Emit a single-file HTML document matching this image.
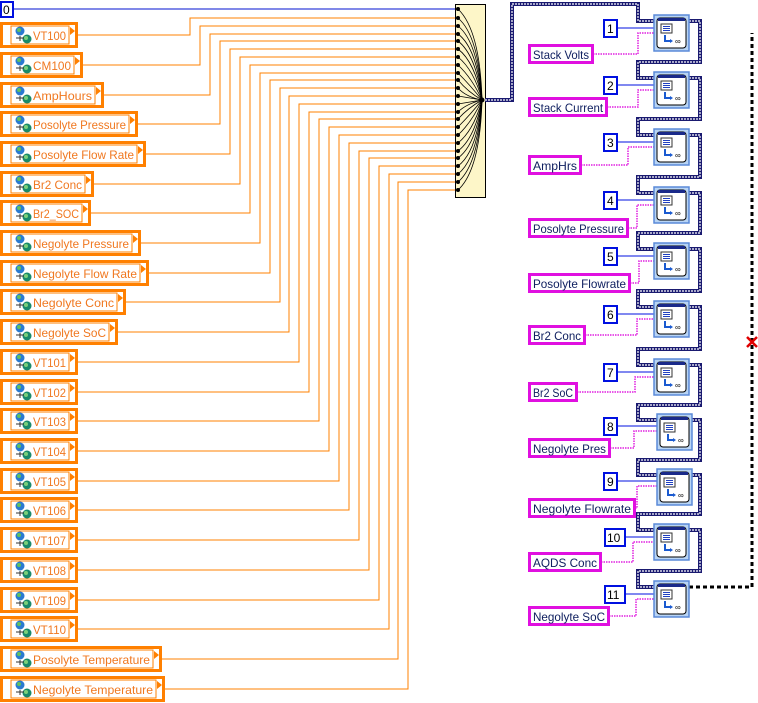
<!DOCTYPE html>
<html><head><meta charset="utf-8"><style>
html,body{margin:0;padding:0;background:#fff;width:758px;height:703px;overflow:hidden}
svg{display:block}
.lt{font-family:"Liberation Sans",sans-serif;font-size:12px;fill:#f07820}
.rt{font-family:"Liberation Sans",sans-serif;font-size:12px;fill:#102060}
.nt{font-family:"Liberation Sans",sans-serif;font-size:12px;fill:#000}
</style></head><body>
<svg width="758" height="703" viewBox="0 0 758 703" xmlns="http://www.w3.org/2000/svg">
<defs>
<g id="ic">
<circle cx="7" cy="5" r="4.5" fill="#2a7ad0"/><circle cx="6" cy="4" r="2" fill="#60c060"/>
<circle cx="14" cy="13" r="4.5" fill="#1a8a6a"/><circle cx="13" cy="12" r="2" fill="#7ad07a"/>
<path d="M3 12 h8 M7 10 v5" stroke="#333" stroke-width="1"/>
</g>
<g id="nd">
<rect x="0" y="0" width="35" height="36" fill="#b8d4f4" stroke="#5a8ad8" stroke-width="1.5"/>
<rect x="3" y="3" width="29" height="30" rx="3" fill="#fff" stroke="#000" stroke-width="1"/>
<rect x="4" y="3" width="27" height="3" fill="#1a2a8a"/>
<rect x="7" y="9" width="11" height="9" fill="#fff" stroke="#333" stroke-width="1"/>
<path d="M9 11.5h7M9 13.5h7M9 15.5h7" stroke="#2040c0" stroke-width="1"/>
<path d="M11 20 v6 h6" stroke="#1a5ad0" stroke-width="2" fill="none"/>
<path d="M16 24 l3 2 l-3 2z" fill="#1a5ad0"/>
<text x="21" y="29" font-size="8" font-family="Liberation Sans" fill="#000">∞</text>
</g>
</defs>

<rect x="1" y="2" width="12" height="15" fill="#fff" stroke="#0010e0" stroke-width="2"/>
<text x="3" y="14" class="nt">0</text>
<line x1="13" y1="9" x2="455" y2="9" stroke="#0010d0" stroke-width="1"/>

<g fill="none" stroke="#ff8000" stroke-width="1">
<polyline points="77,35 190,35 190,18 455,18"/>
<polyline points="82,65 200,65 200,26 455,26"/>
<polyline points="103,95 210,95 210,34 455,34"/>
<polyline points="137,124 220,124 220,41 455,41"/>
<polyline points="145,154 230,154 230,49 455,49"/>
<polyline points="93,184 240,184 240,57 455,57"/>
<polyline points="90,213 250,213 250,65 455,65"/>
<polyline points="140,243 260,243 260,73 455,73"/>
<polyline points="148,273 270,273 270,80 455,80"/>
<polyline points="125,302 280,302 280,88 455,88"/>
<polyline points="117,332 289,332 289,96 455,96"/>
<polyline points="77,362 299,362 299,104 455,104"/>
<polyline points="77,392 309,392 309,112 455,112"/>
<polyline points="77,421 319,421 319,119 455,119"/>
<polyline points="77,451 329,451 329,127 455,127"/>
<polyline points="77,481 339,481 339,135 455,135"/>
<polyline points="77,510 349,510 349,143 455,143"/>
<polyline points="77,540 359,540 359,151 455,151"/>
<polyline points="77,570 369,570 369,158 455,158"/>
<polyline points="77,600 379,600 379,166 455,166"/>
<polyline points="77,629 389,629 389,174 455,174"/>
<polyline points="161,659 398,659 398,182 455,182"/>
<polyline points="164,689 408,689 408,190 455,190"/>
</g>

<g>
<g transform="translate(0,35)"><rect x="1.5" y="-11.5" width="75" height="23" fill="#fff" stroke="#ff8000" stroke-width="3"/><rect x="11" y="-9" width="58" height="18" fill="none" stroke="#ff8000"/><use href="#ic" x="13" y="-9"/><text x="33" y="5" class="lt" textLength="33" lengthAdjust="spacingAndGlyphs">VT100</text><path d="M70 -8 l5 4 l-5 4z" fill="#ff8000"/></g>
<g transform="translate(0,65)"><rect x="1.5" y="-11.5" width="80" height="23" fill="#fff" stroke="#ff8000" stroke-width="3"/><rect x="11" y="-9" width="63" height="18" fill="none" stroke="#ff8000"/><use href="#ic" x="13" y="-9"/><text x="33" y="5" class="lt" textLength="38" lengthAdjust="spacingAndGlyphs">CM100</text><path d="M75 -8 l5 4 l-5 4z" fill="#ff8000"/></g>
<g transform="translate(0,95)"><rect x="1.5" y="-11.5" width="101" height="23" fill="#fff" stroke="#ff8000" stroke-width="3"/><rect x="11" y="-9" width="84" height="18" fill="none" stroke="#ff8000"/><use href="#ic" x="13" y="-9"/><text x="33" y="5" class="lt" textLength="59" lengthAdjust="spacingAndGlyphs">AmpHours</text><path d="M96 -8 l5 4 l-5 4z" fill="#ff8000"/></g>
<g transform="translate(0,124)"><rect x="1.5" y="-11.5" width="135" height="23" fill="#fff" stroke="#ff8000" stroke-width="3"/><rect x="11" y="-9" width="118" height="18" fill="none" stroke="#ff8000"/><use href="#ic" x="13" y="-9"/><text x="33" y="5" class="lt" textLength="93" lengthAdjust="spacingAndGlyphs">Posolyte Pressure</text><path d="M130 -8 l5 4 l-5 4z" fill="#ff8000"/></g>
<g transform="translate(0,154)"><rect x="1.5" y="-11.5" width="143" height="23" fill="#fff" stroke="#ff8000" stroke-width="3"/><rect x="11" y="-9" width="126" height="18" fill="none" stroke="#ff8000"/><use href="#ic" x="13" y="-9"/><text x="33" y="5" class="lt" textLength="101" lengthAdjust="spacingAndGlyphs">Posolyte Flow Rate</text><path d="M138 -8 l5 4 l-5 4z" fill="#ff8000"/></g>
<g transform="translate(0,184)"><rect x="1.5" y="-11.5" width="91" height="23" fill="#fff" stroke="#ff8000" stroke-width="3"/><rect x="11" y="-9" width="74" height="18" fill="none" stroke="#ff8000"/><use href="#ic" x="13" y="-9"/><text x="33" y="5" class="lt" textLength="49" lengthAdjust="spacingAndGlyphs">Br2 Conc</text><path d="M86 -8 l5 4 l-5 4z" fill="#ff8000"/></g>
<g transform="translate(0,213)"><rect x="1.5" y="-11.5" width="88" height="23" fill="#fff" stroke="#ff8000" stroke-width="3"/><rect x="11" y="-9" width="71" height="18" fill="none" stroke="#ff8000"/><use href="#ic" x="13" y="-9"/><text x="33" y="5" class="lt" textLength="46" lengthAdjust="spacingAndGlyphs">Br2_SOC</text><path d="M83 -8 l5 4 l-5 4z" fill="#ff8000"/></g>
<g transform="translate(0,243)"><rect x="1.5" y="-11.5" width="138" height="23" fill="#fff" stroke="#ff8000" stroke-width="3"/><rect x="11" y="-9" width="121" height="18" fill="none" stroke="#ff8000"/><use href="#ic" x="13" y="-9"/><text x="33" y="5" class="lt" textLength="96" lengthAdjust="spacingAndGlyphs">Negolyte Pressure</text><path d="M133 -8 l5 4 l-5 4z" fill="#ff8000"/></g>
<g transform="translate(0,273)"><rect x="1.5" y="-11.5" width="146" height="23" fill="#fff" stroke="#ff8000" stroke-width="3"/><rect x="11" y="-9" width="129" height="18" fill="none" stroke="#ff8000"/><use href="#ic" x="13" y="-9"/><text x="33" y="5" class="lt" textLength="104" lengthAdjust="spacingAndGlyphs">Negolyte Flow Rate</text><path d="M141 -8 l5 4 l-5 4z" fill="#ff8000"/></g>
<g transform="translate(0,302)"><rect x="1.5" y="-11.5" width="123" height="23" fill="#fff" stroke="#ff8000" stroke-width="3"/><rect x="11" y="-9" width="106" height="18" fill="none" stroke="#ff8000"/><use href="#ic" x="13" y="-9"/><text x="33" y="5" class="lt" textLength="81" lengthAdjust="spacingAndGlyphs">Negolyte Conc</text><path d="M118 -8 l5 4 l-5 4z" fill="#ff8000"/></g>
<g transform="translate(0,332)"><rect x="1.5" y="-11.5" width="115" height="23" fill="#fff" stroke="#ff8000" stroke-width="3"/><rect x="11" y="-9" width="98" height="18" fill="none" stroke="#ff8000"/><use href="#ic" x="13" y="-9"/><text x="33" y="5" class="lt" textLength="73" lengthAdjust="spacingAndGlyphs">Negolyte SoC</text><path d="M110 -8 l5 4 l-5 4z" fill="#ff8000"/></g>
<g transform="translate(0,362)"><rect x="1.5" y="-11.5" width="75" height="23" fill="#fff" stroke="#ff8000" stroke-width="3"/><rect x="11" y="-9" width="58" height="18" fill="none" stroke="#ff8000"/><use href="#ic" x="13" y="-9"/><text x="33" y="5" class="lt" textLength="33" lengthAdjust="spacingAndGlyphs">VT101</text><path d="M70 -8 l5 4 l-5 4z" fill="#ff8000"/></g>
<g transform="translate(0,392)"><rect x="1.5" y="-11.5" width="75" height="23" fill="#fff" stroke="#ff8000" stroke-width="3"/><rect x="11" y="-9" width="58" height="18" fill="none" stroke="#ff8000"/><use href="#ic" x="13" y="-9"/><text x="33" y="5" class="lt" textLength="33" lengthAdjust="spacingAndGlyphs">VT102</text><path d="M70 -8 l5 4 l-5 4z" fill="#ff8000"/></g>
<g transform="translate(0,421)"><rect x="1.5" y="-11.5" width="75" height="23" fill="#fff" stroke="#ff8000" stroke-width="3"/><rect x="11" y="-9" width="58" height="18" fill="none" stroke="#ff8000"/><use href="#ic" x="13" y="-9"/><text x="33" y="5" class="lt" textLength="33" lengthAdjust="spacingAndGlyphs">VT103</text><path d="M70 -8 l5 4 l-5 4z" fill="#ff8000"/></g>
<g transform="translate(0,451)"><rect x="1.5" y="-11.5" width="75" height="23" fill="#fff" stroke="#ff8000" stroke-width="3"/><rect x="11" y="-9" width="58" height="18" fill="none" stroke="#ff8000"/><use href="#ic" x="13" y="-9"/><text x="33" y="5" class="lt" textLength="33" lengthAdjust="spacingAndGlyphs">VT104</text><path d="M70 -8 l5 4 l-5 4z" fill="#ff8000"/></g>
<g transform="translate(0,481)"><rect x="1.5" y="-11.5" width="75" height="23" fill="#fff" stroke="#ff8000" stroke-width="3"/><rect x="11" y="-9" width="58" height="18" fill="none" stroke="#ff8000"/><use href="#ic" x="13" y="-9"/><text x="33" y="5" class="lt" textLength="33" lengthAdjust="spacingAndGlyphs">VT105</text><path d="M70 -8 l5 4 l-5 4z" fill="#ff8000"/></g>
<g transform="translate(0,510)"><rect x="1.5" y="-11.5" width="75" height="23" fill="#fff" stroke="#ff8000" stroke-width="3"/><rect x="11" y="-9" width="58" height="18" fill="none" stroke="#ff8000"/><use href="#ic" x="13" y="-9"/><text x="33" y="5" class="lt" textLength="33" lengthAdjust="spacingAndGlyphs">VT106</text><path d="M70 -8 l5 4 l-5 4z" fill="#ff8000"/></g>
<g transform="translate(0,540)"><rect x="1.5" y="-11.5" width="75" height="23" fill="#fff" stroke="#ff8000" stroke-width="3"/><rect x="11" y="-9" width="58" height="18" fill="none" stroke="#ff8000"/><use href="#ic" x="13" y="-9"/><text x="33" y="5" class="lt" textLength="33" lengthAdjust="spacingAndGlyphs">VT107</text><path d="M70 -8 l5 4 l-5 4z" fill="#ff8000"/></g>
<g transform="translate(0,570)"><rect x="1.5" y="-11.5" width="75" height="23" fill="#fff" stroke="#ff8000" stroke-width="3"/><rect x="11" y="-9" width="58" height="18" fill="none" stroke="#ff8000"/><use href="#ic" x="13" y="-9"/><text x="33" y="5" class="lt" textLength="33" lengthAdjust="spacingAndGlyphs">VT108</text><path d="M70 -8 l5 4 l-5 4z" fill="#ff8000"/></g>
<g transform="translate(0,600)"><rect x="1.5" y="-11.5" width="75" height="23" fill="#fff" stroke="#ff8000" stroke-width="3"/><rect x="11" y="-9" width="58" height="18" fill="none" stroke="#ff8000"/><use href="#ic" x="13" y="-9"/><text x="33" y="5" class="lt" textLength="33" lengthAdjust="spacingAndGlyphs">VT109</text><path d="M70 -8 l5 4 l-5 4z" fill="#ff8000"/></g>
<g transform="translate(0,629)"><rect x="1.5" y="-11.5" width="75" height="23" fill="#fff" stroke="#ff8000" stroke-width="3"/><rect x="11" y="-9" width="58" height="18" fill="none" stroke="#ff8000"/><use href="#ic" x="13" y="-9"/><text x="33" y="5" class="lt" textLength="33" lengthAdjust="spacingAndGlyphs">VT110</text><path d="M70 -8 l5 4 l-5 4z" fill="#ff8000"/></g>
<g transform="translate(0,659)"><rect x="1.5" y="-11.5" width="159" height="23" fill="#fff" stroke="#ff8000" stroke-width="3"/><rect x="11" y="-9" width="142" height="18" fill="none" stroke="#ff8000"/><use href="#ic" x="13" y="-9"/><text x="33" y="5" class="lt" textLength="117" lengthAdjust="spacingAndGlyphs">Posolyte Temperature</text><path d="M154 -8 l5 4 l-5 4z" fill="#ff8000"/></g>
<g transform="translate(0,689)"><rect x="1.5" y="-11.5" width="162" height="23" fill="#fff" stroke="#ff8000" stroke-width="3"/><rect x="11" y="-9" width="145" height="18" fill="none" stroke="#ff8000"/><use href="#ic" x="13" y="-9"/><text x="33" y="5" class="lt" textLength="120" lengthAdjust="spacingAndGlyphs">Negolyte Temperature</text><path d="M157 -8 l5 4 l-5 4z" fill="#ff8000"/></g>
</g>

<rect x="455.5" y="4.5" width="30" height="193" fill="#fdf6c8" stroke="#000" stroke-width="1"/>
<g fill="#000">
<circle cx="458" cy="9" r="2"/><circle cx="458" cy="18" r="2"/><circle cx="458" cy="26" r="2"/><circle cx="458" cy="34" r="2"/><circle cx="458" cy="41" r="2"/><circle cx="458" cy="49" r="2"/><circle cx="458" cy="57" r="2"/><circle cx="458" cy="65" r="2"/><circle cx="458" cy="73" r="2"/><circle cx="458" cy="80" r="2"/><circle cx="458" cy="88" r="2"/><circle cx="458" cy="96" r="2"/><circle cx="458" cy="104" r="2"/><circle cx="458" cy="112" r="2"/><circle cx="458" cy="119" r="2"/><circle cx="458" cy="127" r="2"/><circle cx="458" cy="135" r="2"/><circle cx="458" cy="143" r="2"/><circle cx="458" cy="151" r="2"/><circle cx="458" cy="158" r="2"/><circle cx="458" cy="166" r="2"/><circle cx="458" cy="174" r="2"/><circle cx="458" cy="182" r="2"/><circle cx="458" cy="190" r="2"/>
<circle cx="482" cy="100" r="2.5"/>
</g>
<g fill="none" stroke="#000" stroke-width="0.8">
<path d="M458 9 Q480 30 482 100"/><path d="M458 18 Q479 36 482 100"/><path d="M458 26 Q478 42 482 100"/><path d="M458 34 Q477 48 482 100"/><path d="M458 41 Q476 55 482 100"/><path d="M458 49 Q475 62 482 100"/><path d="M458 57 Q474 70 482 100"/><path d="M458 65 Q472 78 482 100"/><path d="M458 73 Q470 85 482 100"/><path d="M458 80 Q468 92 482 100"/><path d="M458 88 Q466 97 482 100"/><path d="M458 96 L482 100"/><path d="M458 104 L482 100"/><path d="M458 112 Q466 104 482 100"/><path d="M458 119 Q468 108 482 100"/><path d="M458 127 Q470 115 482 100"/><path d="M458 135 Q472 122 482 100"/><path d="M458 143 Q474 130 482 100"/><path d="M458 151 Q475 138 482 100"/><path d="M458 158 Q476 145 482 100"/><path d="M458 166 Q477 152 482 100"/><path d="M458 174 Q478 158 482 100"/><path d="M458 182 Q479 164 482 100"/><path d="M458 190 Q480 170 482 100"/>
</g>

<g fill="none">
<path d="M485 100 H512 V4 H638 V21 H654 M689 21 H700 V62 H638 V78 H654 M689 78 H700 V119 H638 V135 H654 M689 135 H700 V177 H638 V193 H654 M689 193 H700 V233 H638 V249 H654 M689 249 H700 V291 H638 V307 H654 M689 307 H700 V349 H638 V365 H654 M689 365 H700 V405 H638 V420 H657 M692 420 H700 V460 H638 V475 H657 M692 475 H700 V514 H638 V530 H654 M689 530 H700 V571 H638 V587 H654" stroke="#1a1a70" stroke-width="4"/>
<path d="M485 100 H512 V4 H638 V21 H654 M689 21 H700 V62 H638 V78 H654 M689 78 H700 V119 H638 V135 H654 M689 135 H700 V177 H638 V193 H654 M689 193 H700 V233 H638 V249 H654 M689 249 H700 V291 H638 V307 H654 M689 307 H700 V349 H638 V365 H654 M689 365 H700 V405 H638 V420 H657 M692 420 H700 V460 H638 V475 H657 M692 475 H700 V514 H638 V530 H654 M689 530 H700 V571 H638 V587 H654" stroke="#fff" stroke-width="1.2" stroke-dasharray="2,1"/>
<path d="M689 587 H752 V33" stroke="#000" stroke-width="3" stroke-dasharray="4,3"/>
</g>
<path d="M747 337 l10 10 M757 337 l-10 10" stroke="#e00000" stroke-width="2.5"/>

<g fill="none" stroke="#0010e0" stroke-width="1">
<path d="M617 28 H654"/><path d="M617 85 H654"/><path d="M617 142 H654"/><path d="M617 200 H654"/><path d="M617 256 H654"/><path d="M617 314 H654"/><path d="M617 372 H654"/><path d="M617 426 H657"/><path d="M617 481 H657"/><path d="M625 537 H654"/><path d="M625 594 H654"/>
</g>
<g fill="none" stroke="#e020e0" stroke-width="1.5" stroke-dasharray="1.5,1">
<path d="M593 54 H638 V33 H654"/><path d="M607 107 H638 V90 H654"/><path d="M581 165 H628 V147 H654"/><path d="M628 228 H637 V205 H654"/><path d="M630 283 H639 V261 H654"/><path d="M585 335 H637 V319 H654"/><path d="M577 392 H635 V377 H654"/><path d="M610 448 H634 V431 H657"/><path d="M635 508 H637 V486 H657"/><path d="M601 562 H633 V542 H654"/><path d="M609 616 H636 V599 H654"/>
</g>

<g>
<rect x="604" y="20" width="13" height="17" fill="#fff" stroke="#0010e0" stroke-width="2"/><text x="607" y="33" class="nt">1</text>
<rect x="604" y="77" width="13" height="17" fill="#fff" stroke="#0010e0" stroke-width="2"/><text x="607" y="90" class="nt">2</text>
<rect x="604" y="134" width="13" height="17" fill="#fff" stroke="#0010e0" stroke-width="2"/><text x="607" y="147" class="nt">3</text>
<rect x="604" y="192" width="13" height="17" fill="#fff" stroke="#0010e0" stroke-width="2"/><text x="607" y="205" class="nt">4</text>
<rect x="604" y="248" width="13" height="17" fill="#fff" stroke="#0010e0" stroke-width="2"/><text x="607" y="261" class="nt">5</text>
<rect x="604" y="306" width="13" height="17" fill="#fff" stroke="#0010e0" stroke-width="2"/><text x="607" y="319" class="nt">6</text>
<rect x="604" y="364" width="13" height="17" fill="#fff" stroke="#0010e0" stroke-width="2"/><text x="607" y="377" class="nt">7</text>
<rect x="604" y="418" width="13" height="17" fill="#fff" stroke="#0010e0" stroke-width="2"/><text x="607" y="431" class="nt">8</text>
<rect x="604" y="473" width="13" height="17" fill="#fff" stroke="#0010e0" stroke-width="2"/><text x="607" y="486" class="nt">9</text>
<rect x="605" y="529" width="20" height="17" fill="#fff" stroke="#0010e0" stroke-width="2"/><text x="607" y="542" class="nt">10</text>
<rect x="605" y="586" width="20" height="17" fill="#fff" stroke="#0010e0" stroke-width="2"/><text x="607" y="599" class="nt">11</text>
</g>

<g fill="#fff" stroke="#e010e0" stroke-width="3">
<rect x="529.5" y="45.5" width="63" height="17"/>
<rect x="529.5" y="98.5" width="77" height="17"/>
<rect x="529.5" y="156.5" width="51" height="17"/>
<rect x="529.5" y="219.5" width="98" height="17"/>
<rect x="529.5" y="274.5" width="100" height="17"/>
<rect x="529.5" y="326.5" width="55" height="17"/>
<rect x="529.5" y="383.5" width="47" height="17"/>
<rect x="529.5" y="439.5" width="80" height="17"/>
<rect x="529.5" y="499.5" width="105" height="17"/>
<rect x="529.5" y="553.5" width="71" height="17"/>
<rect x="529.5" y="607.5" width="79" height="17"/>
</g>
<g>
<text x="533" y="59" class="rt" textLength="56" lengthAdjust="spacingAndGlyphs">Stack Volts</text>
<text x="533" y="112" class="rt" textLength="70" lengthAdjust="spacingAndGlyphs">Stack Current</text>
<text x="533" y="170" class="rt" textLength="44" lengthAdjust="spacingAndGlyphs">AmpHrs</text>
<text x="533" y="233" class="rt" textLength="91" lengthAdjust="spacingAndGlyphs">Posolyte Pressure</text>
<text x="533" y="288" class="rt" textLength="93" lengthAdjust="spacingAndGlyphs">Posolyte Flowrate</text>
<text x="533" y="340" class="rt" textLength="48" lengthAdjust="spacingAndGlyphs">Br2 Conc</text>
<text x="533" y="397" class="rt" textLength="40" lengthAdjust="spacingAndGlyphs">Br2 SoC</text>
<text x="533" y="453" class="rt" textLength="73" lengthAdjust="spacingAndGlyphs">Negolyte Pres</text>
<text x="533" y="513" class="rt" textLength="98" lengthAdjust="spacingAndGlyphs">Negolyte Flowrate</text>
<text x="533" y="567" class="rt" textLength="64" lengthAdjust="spacingAndGlyphs">AQDS  Conc</text>
<text x="533" y="621" class="rt" textLength="72" lengthAdjust="spacingAndGlyphs">Negolyte SoC</text>
</g>

<use href="#nd" x="654" y="15"/><use href="#nd" x="654" y="72"/><use href="#nd" x="654" y="129"/><use href="#nd" x="654" y="187"/><use href="#nd" x="654" y="243"/><use href="#nd" x="654" y="301"/><use href="#nd" x="654" y="359"/><use href="#nd" x="657" y="414"/><use href="#nd" x="657" y="469"/><use href="#nd" x="654" y="524"/><use href="#nd" x="654" y="581"/>
</svg>
</body></html>
